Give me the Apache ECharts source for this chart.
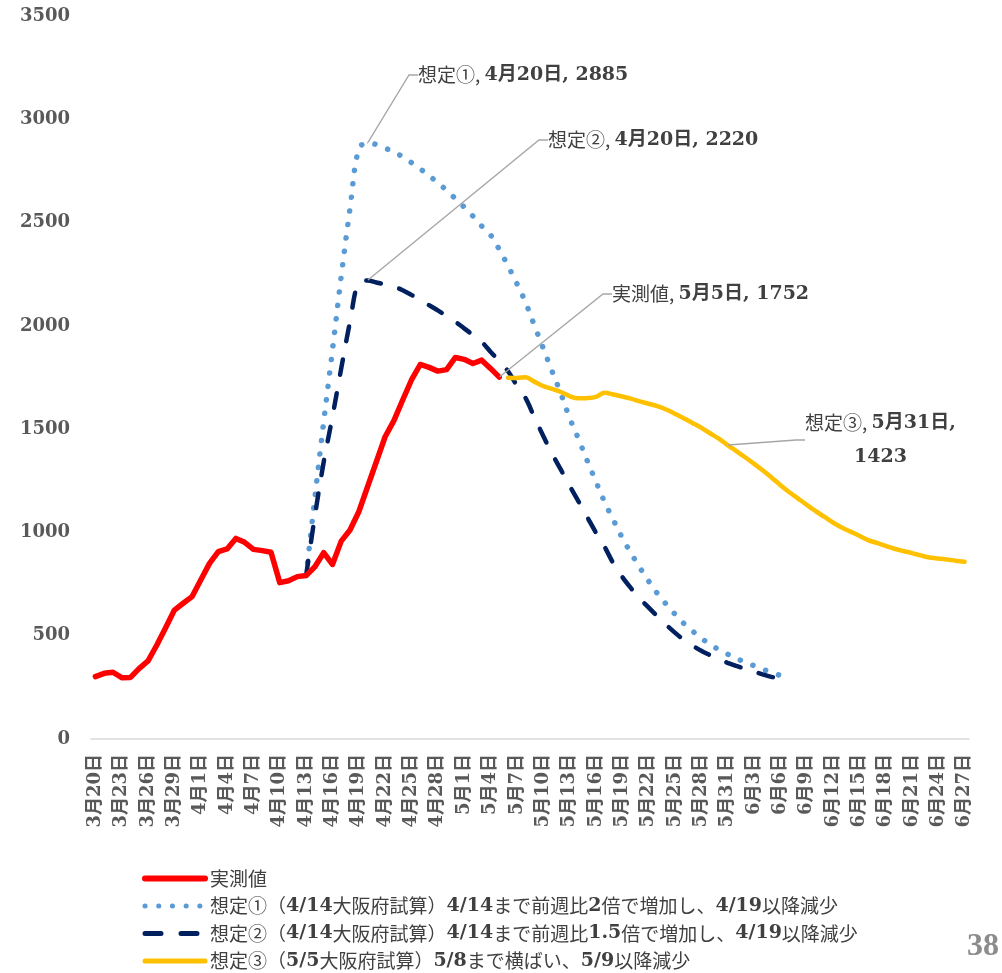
<!DOCTYPE html>
<html><head><meta charset="utf-8">
<script src="https://cdn.jsdelivr.net/npm/echarts@6/dist/echarts.min.js"></script>
<style>html,body{margin:0;padding:0;background:#fff;}#c{width:1002px;height:973px;}</style>
</head><body><div id="c"></div>
<script>
// ---- categories (3/20 .. 6/27, daily) ----
const categories = [
 '3月20日','3月21日','3月22日','3月23日','3月24日','3月25日','3月26日','3月27日','3月28日','3月29日','3月30日','3月31日',
 '4月1日','4月2日','4月3日','4月4日','4月5日','4月6日','4月7日','4月8日','4月9日','4月10日','4月11日','4月12日','4月13日','4月14日','4月15日',
 '4月16日','4月17日','4月18日','4月19日','4月20日','4月21日','4月22日','4月23日','4月24日','4月25日','4月26日','4月27日','4月28日','4月29日','4月30日',
 '5月1日','5月2日','5月3日','5月4日','5月5日','5月6日','5月7日','5月8日','5月9日','5月10日','5月11日','5月12日','5月13日','5月14日','5月15日',
 '5月16日','5月17日','5月18日','5月19日','5月20日','5月21日','5月22日','5月23日','5月24日','5月25日','5月26日','5月27日','5月28日','5月29日','5月30日','5月31日',
 '6月1日','6月2日','6月3日','6月4日','6月5日','6月6日','6月7日','6月8日','6月9日','6月10日','6月11日','6月12日','6月13日','6月14日','6月15日',
 '6月16日','6月17日','6月18日','6月19日','6月20日','6月21日','6月22日','6月23日','6月24日','6月25日','6月26日','6月27日'
];
const yTicks = [0, 500, 1000, 1500, 2000, 2500, 3000, 3500];

// ---- series values ----
// 実測値: 3/20 .. 5/5
const actual = [302,318,323,297,298,342,378,455,539,624,657,689,770,850,907,920,971,952,918,912,904,757,766,786,
 791,834,902,845,958,1012,1100,1221,1342,1463,1541,1641,1738,1813,1799,1781,1788,1847,1838,1818,1834,1794,1752];
// 想定①: 4/13 .. 6/6
const scen1Start = 24;
const scen1 = [791,1168,1535,1881,2240,2568,2859,2885,2878,2860,2843,2818,2790,2760,2727,2693,2656,2616,2575,2531,
 2483,2440,2370,2290,2205,2113,2002,1893,1782,1674,1556,1455,1349,1247,1147,1060,975,900,830,765,705,653,605,560,
 523,489,458,433,411,390,372,355,338,322,308];
// 想定②: 4/13 .. 6/6
const scen2Start = 24;
const scen2 = [791,1080,1340,1560,1794,2020,2210,2220,2210,2200,2190,2172,2150,2127,2100,2075,2048,2020,1988,1956,
 1923,1875,1830,1780,1712,1650,1558,1468,1382,1305,1226,1152,1076,1000,930,850,785,730,680,637,594,553,515,481,
 453,427,406,386,369,354,340,326,313,301,292];
// 想定③: 5/6 .. 6/27
const scen3Start = 47;
const scen3 = [1749,1748,1751,1730,1709,1695,1680,1660,1649,1650,1656,1676,1668,1658,1648,1634,1623,1611,1595,1575,
 1553,1530,1507,1480,1454,1423,1394,1364,1333,1301,1266,1230,1196,1165,1134,1104,1076,1048,1024,1004,984,963,949,
 935,921,910,900,889,879,874,869,863,858];

const names = [
 '実測値',
 '想定①（4/14大阪府試算）4/14まで前週比2倍で増加し、4/19以降減少',
 '想定②（4/14大阪府試算）4/14まで前週比1.5倍で増加し、4/19以降減少',
 '想定③（5/5大阪府試算）5/8まで横ばい、5/9以降減少'
];

const SERIF = '"DejaVu Serif","Noto Sans CJK JP",serif';
const SANS = '"Noto Sans CJK JP",sans-serif';
const TXT = '#404040';
const richLabel = {
  a: {fontFamily: SANS, fontSize: 19, color: TXT, lineHeight: 34},
  b: {fontFamily: SERIF, fontWeight: 'bold', fontSize: 19, color: TXT, lineHeight: 34},
  c: {fontFamily: SERIF, fontWeight: 'bold', fontSize: 19, color: TXT, lineHeight: 34, align: 'center'}
};

function buildData(values, start, labelIdx, text) {
  const out = new Array(start).fill(null);
  values.forEach((v, k) => {
    const idx = start + k;
    if (idx === labelIdx) {
      out.push({
        value: v, symbol: 'circle', symbolSize: 1,
        label: {show: true, formatter: text, rich: richLabel, padding: [0, 0, 0, 9]},
        labelLine: {show: true, length2: 9, lineStyle: {color: '#a6a6a6', width: 1.3}}
      });
    } else out.push(v);
  });
  return out;
}

// label placement (pixel layout of annotation boxes)
const labelPlace = {
  0: {x: 409, y: 75},
  1: {x: 539, y: 140},
  2: {x: 796, y: 440},
  3: {x: 603, y: 294}
};
const place = p => Object.assign({align: 'left', verticalAlign: 'middle'}, labelPlace[p.seriesIndex]);

const chart = echarts.init(document.getElementById('c'), null, {renderer: 'canvas'});
chart.setOption({
  animation: false,
  backgroundColor: '#fff',
  title: {
    text: '38', left: 962, top: 926,
    textStyle: {fontFamily: '"Liberation Serif",serif', fontWeight: 'bold', fontSize: 32, color: '#8c8c8c'}
  },
  grid: {left: 91, right: 33, top: 16, bottom: 234, containLabel: false},
  legend: {
    data: [
      {name: names[0], lineStyle: {width: 6, cap: 'round'}},
      {name: names[1], lineStyle: {width: 5, type: [0.1, 13.6], cap: 'round'}},
      {name: names[2], lineStyle: {width: 5, type: [16, 20], cap: 'round'}},
      {name: names[3], lineStyle: {width: 5, cap: 'round'}}
    ],
    orient: 'vertical', left: 137, top: 864, height: 130,
    itemWidth: 60, itemHeight: 14, itemGap: 8.5,
    itemStyle: {opacity: 0},
    formatter: n => n.replace(/([0-9][0-9\/\.]*)/g, '{n|$1}'),
    textStyle: {fontFamily: SANS, fontSize: 19, color: TXT,
      rich: {n: {fontFamily: SERIF, fontWeight: 'bold', fontSize: 19, color: TXT}}}
  },
  xAxis: {
    type: 'category', data: categories, boundaryGap: true,
    axisLine: {lineStyle: {color: '#d9d9d9', width: 1.5}},
    axisTick: {show: false},
    axisLabel: {interval: 2, rotate: 90, margin: 15, fontFamily: SERIF, fontWeight: 'bold', fontSize: 18, color: '#595959'}
  },
  yAxis: {
    type: 'value', min: yTicks[0], max: yTicks[yTicks.length - 1], interval: 500,
    axisLine: {show: false}, axisTick: {show: false}, splitLine: {show: false},
    axisLabel: {margin: 21, formatter: v => String(v), fontFamily: SERIF, fontWeight: 'bold', fontSize: 18, color: '#595959'}
  },
  series: [
    {
      name: names[1], type: 'line', smooth: 0.35, symbol: 'none', showSymbol: true, showAllSymbol: true,
      data: buildData(scen1, scen1Start, 31, '{a|想定①, }{b|4月20日, 2885}'),
      lineStyle: {color: '#5b9bd5', width: 5.5, type: [0.1, 13.5], cap: 'round'},
      itemStyle: {color: '#5b9bd5'},
      labelLayout: place, z: 2
    },
    {
      name: names[2], type: 'line', smooth: 0.35, symbol: 'none', showSymbol: true, showAllSymbol: true,
      data: buildData(scen2, scen2Start, 31, '{a|想定②, }{b|4月20日, 2220}'),
      lineStyle: {color: '#002060', width: 4.5, type: [15, 19], cap: 'round'},
      itemStyle: {color: '#002060'},
      labelLayout: place, z: 3
    },
    {
      name: names[3], type: 'line', smooth: 0.35, symbol: 'none', showSymbol: true, showAllSymbol: true,
      data: buildData(scen3, scen3Start, 72, '{a|想定③, }{b|5月31日,}\n{c|1423}'),
      lineStyle: {color: '#ffc000', width: 4.5, cap: 'round'},
      itemStyle: {color: '#ffc000'},
      labelLayout: place, z: 4
    },
    {
      name: names[0], type: 'line', smooth: false, symbol: 'none', showSymbol: true, showAllSymbol: true,
      data: buildData(actual, 0, 46, '{a|実測値, }{b|5月5日, 1752}'),
      lineStyle: {color: '#ff0000', width: 5.5, cap: 'round', join: 'round'},
      itemStyle: {color: '#ff0000'},
      labelLayout: place, z: 5
    }
  ]
});
</script>
</body></html>
